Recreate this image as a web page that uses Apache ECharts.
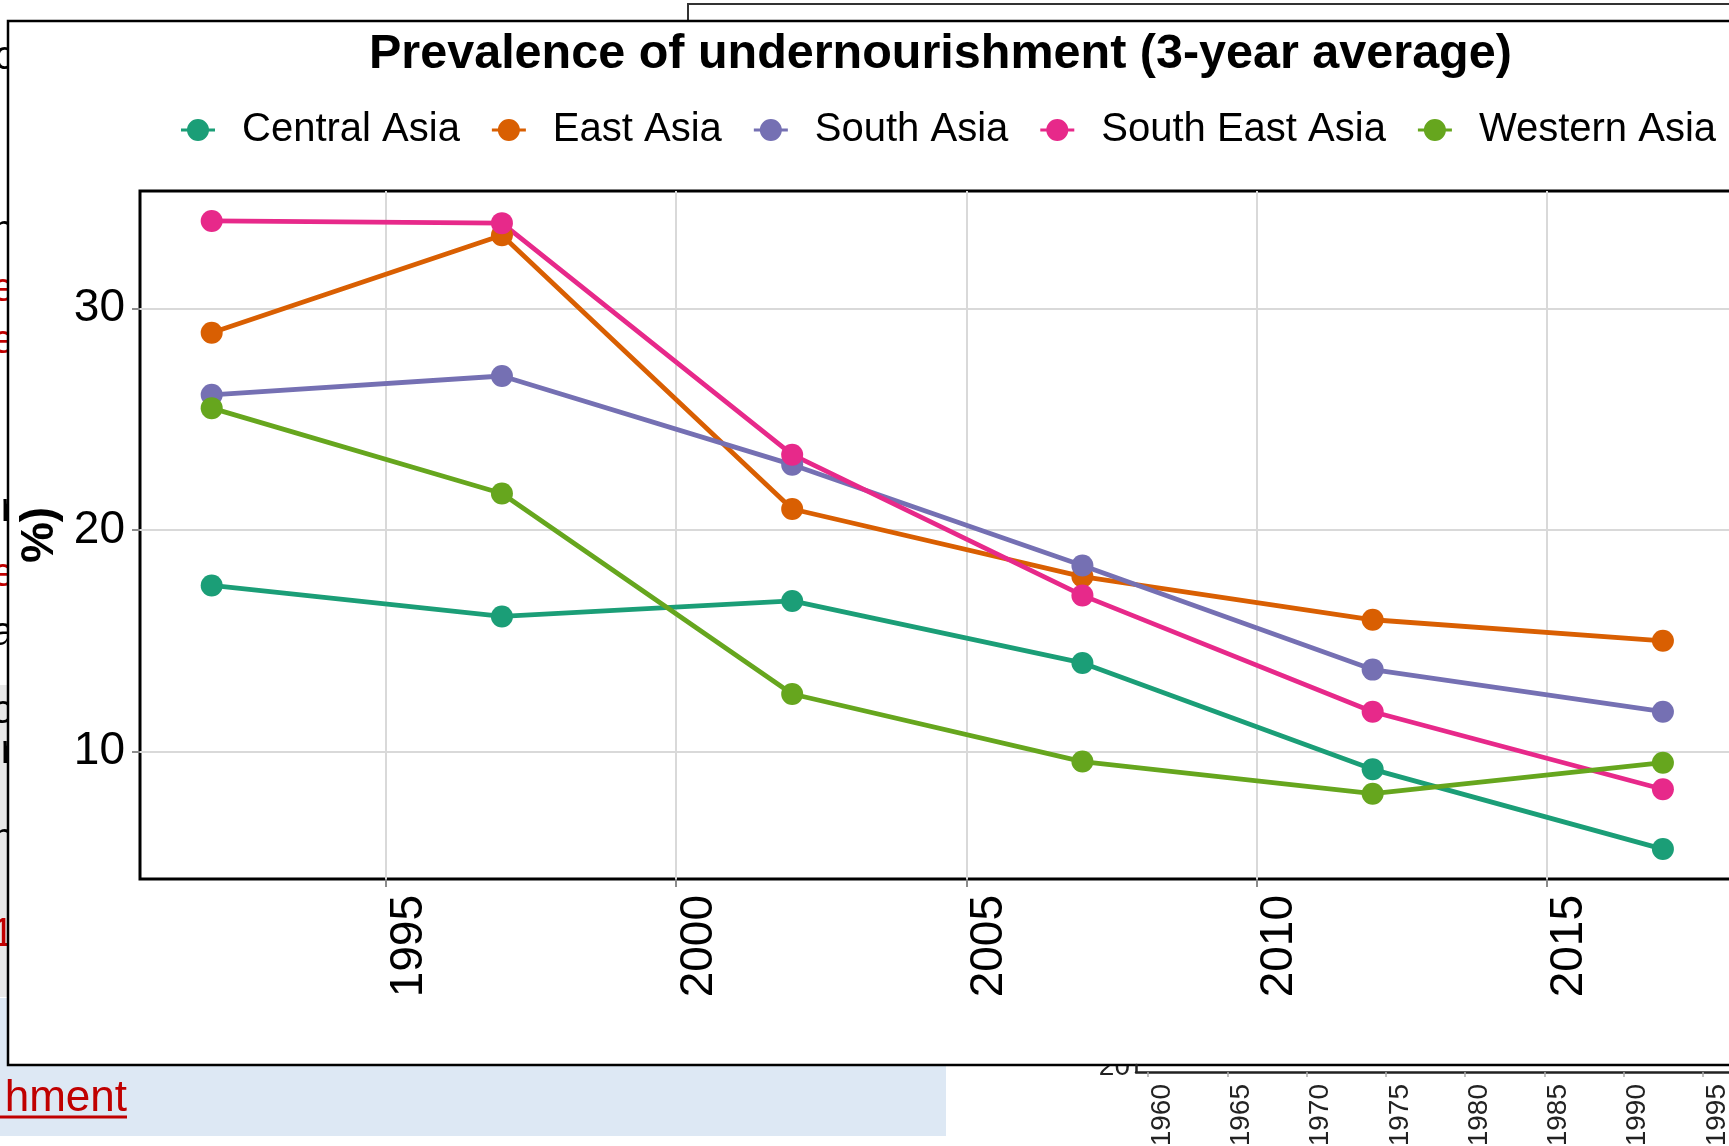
<!DOCTYPE html>
<html>
<head>
<meta charset="utf-8">
<title>Prevalence of undernourishment (3-year average)</title>
<script src="https://cdn.jsdelivr.net/npm/echarts@6/dist/echarts.min.js"></script>
<style>
  html, body { margin: 0; padding: 0; background: #ffffff; }
  #chart { width: 1729px; height: 1146px; }
</style>
</head>
<body>
<div id="chart"></div>
<script>
// Survey years (3-year averages centred on these years)
const years = [1992, 1997, 2002, 2007, 2012, 2017];

// Prevalence of undernourishment, % of population
const centralAsia   = [17.5, 16.1, 16.8, 14.0, 9.2, 5.6];
const eastAsia      = [28.9, 33.3, 20.95, 17.9, 15.95, 15.0];
const southAsia     = [26.1, 26.95, 22.95, 18.4, 13.7, 11.8];
const southEastAsia = [33.95, 33.85, 23.4, 17.05, 11.8, 8.3];
const westernAsia   = [25.5, 21.65, 12.6, 9.55, 8.1, 9.5];

const regionNames  = ['Central Asia', 'East Asia', 'South Asia', 'South East Asia', 'Western Asia'];
const regionValues = [centralAsia, eastAsia, southAsia, southEastAsia, westernAsia];
const regionColors = ['#1B9E77', '#D95F02', '#7570B3', '#E7298A', '#66A61E'];

// Tick labels
const xTicks = [1995, 2000, 2005, 2010, 2015];
const yTicks = [10, 20, 30];
// Year ticks of the neighbouring figure peeking out below the panel
const insetYears = [1960, 1965, 1970, 1975, 1980, 1985, 1990, 1995, 2000];

const FONT = '"Liberation Sans", Arial, Helvetica, sans-serif';

// legend key: a dot with short line stubs on both sides
const KEY_ICON = 'path://M0,9.5 H34 V12.5 H0 Z M6,11 A11,11 0 1,1 28,11 A11,11 0 1,1 6,11 Z';

const series = regionNames.map((name, k) => ({
  name: name,
  type: 'line',
  xAxisIndex: 0,
  yAxisIndex: 0,
  data: years.map((yr, i) => [yr, regionValues[k][i]]),
  symbol: 'circle',
  symbolSize: 22,
  showAllSymbol: true,
  lineStyle: { width: 4.8, color: regionColors[k] },
  itemStyle: { color: regionColors[k] },
  emphasis: { disabled: true },
  z: 3
}));

// Slide content surrounding the chart panel
const leftFragments = [
  { t: 'c', y: 58, c: '#000' }, { t: 'l', y: 108, c: '#000' }, { t: 'n', y: 232, c: '#000' },
  { t: 'e', y: 290, c: '#c00000' }, { t: 'e', y: 342, c: '#c00000' }, { t: 'i', y: 452, c: '#e99' },
  { t: 'r', y: 510, c: '#000' }, { t: 'e', y: 575, c: '#c00000' }, { t: 'a', y: 634, c: '#000' },
  { t: 'o', y: 712, c: '#000' }, { t: 'r', y: 752, c: '#000' }, { t: 'n', y: 840, c: '#000' },
  { t: '1', y: 935, c: '#c00000' }
];

const graphics = [
  { type: 'rect', z: -30, shape: { x: 0, y: 685, width: 10, height: 312 }, style: { fill: '#e7e7e7' } },
  { type: 'rect', z: -30, shape: { x: 0, y: 998, width: 946, height: 138 }, style: { fill: '#dde8f4' } },
  { type: 'text', z: -20, x: 127, y: 1121,
    style: { text: 'hment', font: '44px ' + FONT, fill: '#c00000', align: 'right', verticalAlign: 'bottom' } },
  { type: 'line', z: -20, shape: { x1: 0, y1: 1117, x2: 127, y2: 1117 }, style: { stroke: '#c00000', lineWidth: 3 } },
  { type: 'polyline', z: -20, shape: { points: [[688, 22], [688, 4], [1740, 4]] }, style: { stroke: '#333', lineWidth: 2, fill: null } },
  { type: 'text', z: -20, x: 1130, y: 1081,
    style: { text: '20', font: '28px ' + FONT, fill: '#222', align: 'right', verticalAlign: 'bottom' } }
].concat(leftFragments.map(f => ({
  type: 'text', z: -20, x: 14, y: f.y,
  style: { text: f.t, font: '40px ' + FONT, fill: f.c, align: 'right', verticalAlign: 'middle' }
}))).concat([
  // white chart panel with its black frame
  { type: 'rect', z: -10, shape: { x: 8, y: 21, width: 1800, height: 1044 },
    style: { fill: '#ffffff', stroke: '#000', lineWidth: 2.5 } }
]);

const chart = echarts.init(document.getElementById('chart'), null, { renderer: 'canvas' });

chart.setOption({
  animation: false,
  backgroundColor: '#ffffff',
  textStyle: { fontFamily: FONT },
  title: {
    text: 'Prevalence of undernourishment (3-year average)',
    left: 369,
    top: 31,
    padding: 0,
    textStyle: { fontSize: 48.5, fontWeight: 'bold', color: '#000', fontFamily: FONT, lineHeight: 48 }
  },
  legend: {
    data: regionNames.map(n => ({ name: n, icon: KEY_ICON })),
    left: 181,
    top: 110,
    padding: 0,
    itemWidth: 34,
    itemHeight: 22,
    itemGap: 32,
    textStyle: { fontSize: 40, color: '#000', fontFamily: FONT, lineHeight: 40, padding: [0, 0, 0, 22] }
  },
  graphic: { elements: graphics },
  grid: [
    { left: 140, top: 191, width: 1594.6, height: 688, show: true, borderColor: '#000', borderWidth: 3,
      backgroundColor: 'transparent', containLabel: false, outerBoundsMode: 'none' },
    { left: 1136, top: 1065, width: 700, height: 7, show: false, containLabel: false, outerBoundsMode: 'none' }
  ],
  xAxis: [
    {
      type: 'value', gridIndex: 0, min: 1990.765, max: 2018.235,
      axisLine: { show: false },
      axisTick: { show: true, customValues: xTicks, length: 8, lineStyle: { color: '#8c8c8c', width: 2 } },
      axisLabel: {
        customValues: xTicks, rotate: 90, fontSize: 46, color: '#000', fontFamily: FONT,
        verticalAlign: 'top', margin: 16, formatter: v => String(v)
      },
      splitLine: { show: true, lineStyle: { color: '#d9d9d9', width: 2 } }
    },
    {
      type: 'value', gridIndex: 1, min: 1959.24, max: 2003.4,
      axisLine: { show: true, lineStyle: { color: '#222', width: 2.5 } },
      axisTick: { show: true, customValues: insetYears, length: 5, lineStyle: { color: '#aaa', width: 1.5 } },
      axisLabel: {
        customValues: insetYears, rotate: 90, fontSize: 28, color: '#222', fontFamily: FONT,
        verticalAlign: 'top', margin: 12, formatter: v => String(v)
      },
      splitLine: { show: false }
    }
  ],
  yAxis: [
    {
      type: 'value', gridIndex: 0, min: 4.25, max: 35.3,
      name: '%)', nameLocation: 'middle', nameRotate: 90, nameGap: 71,
      nameTextStyle: { fontSize: 46, fontWeight: 'bold', color: '#000', fontFamily: FONT },
      axisLine: { show: false },
      axisTick: { show: true, customValues: yTicks, length: 8, lineStyle: { color: '#8c8c8c', width: 2 } },
      axisLabel: { customValues: yTicks, fontSize: 46, color: '#000', fontFamily: FONT, margin: 15 },
      splitLine: { show: true, lineStyle: { color: '#d9d9d9', width: 2 } }
    },
    {
      type: 'value', gridIndex: 1, min: 0, max: 1,
      axisLine: { show: true, lineStyle: { color: '#222', width: 2.5 } },
      axisTick: { show: false }, axisLabel: { show: false }, splitLine: { show: false }
    }
  ],
  series: series
});
</script>
</body>
</html>
